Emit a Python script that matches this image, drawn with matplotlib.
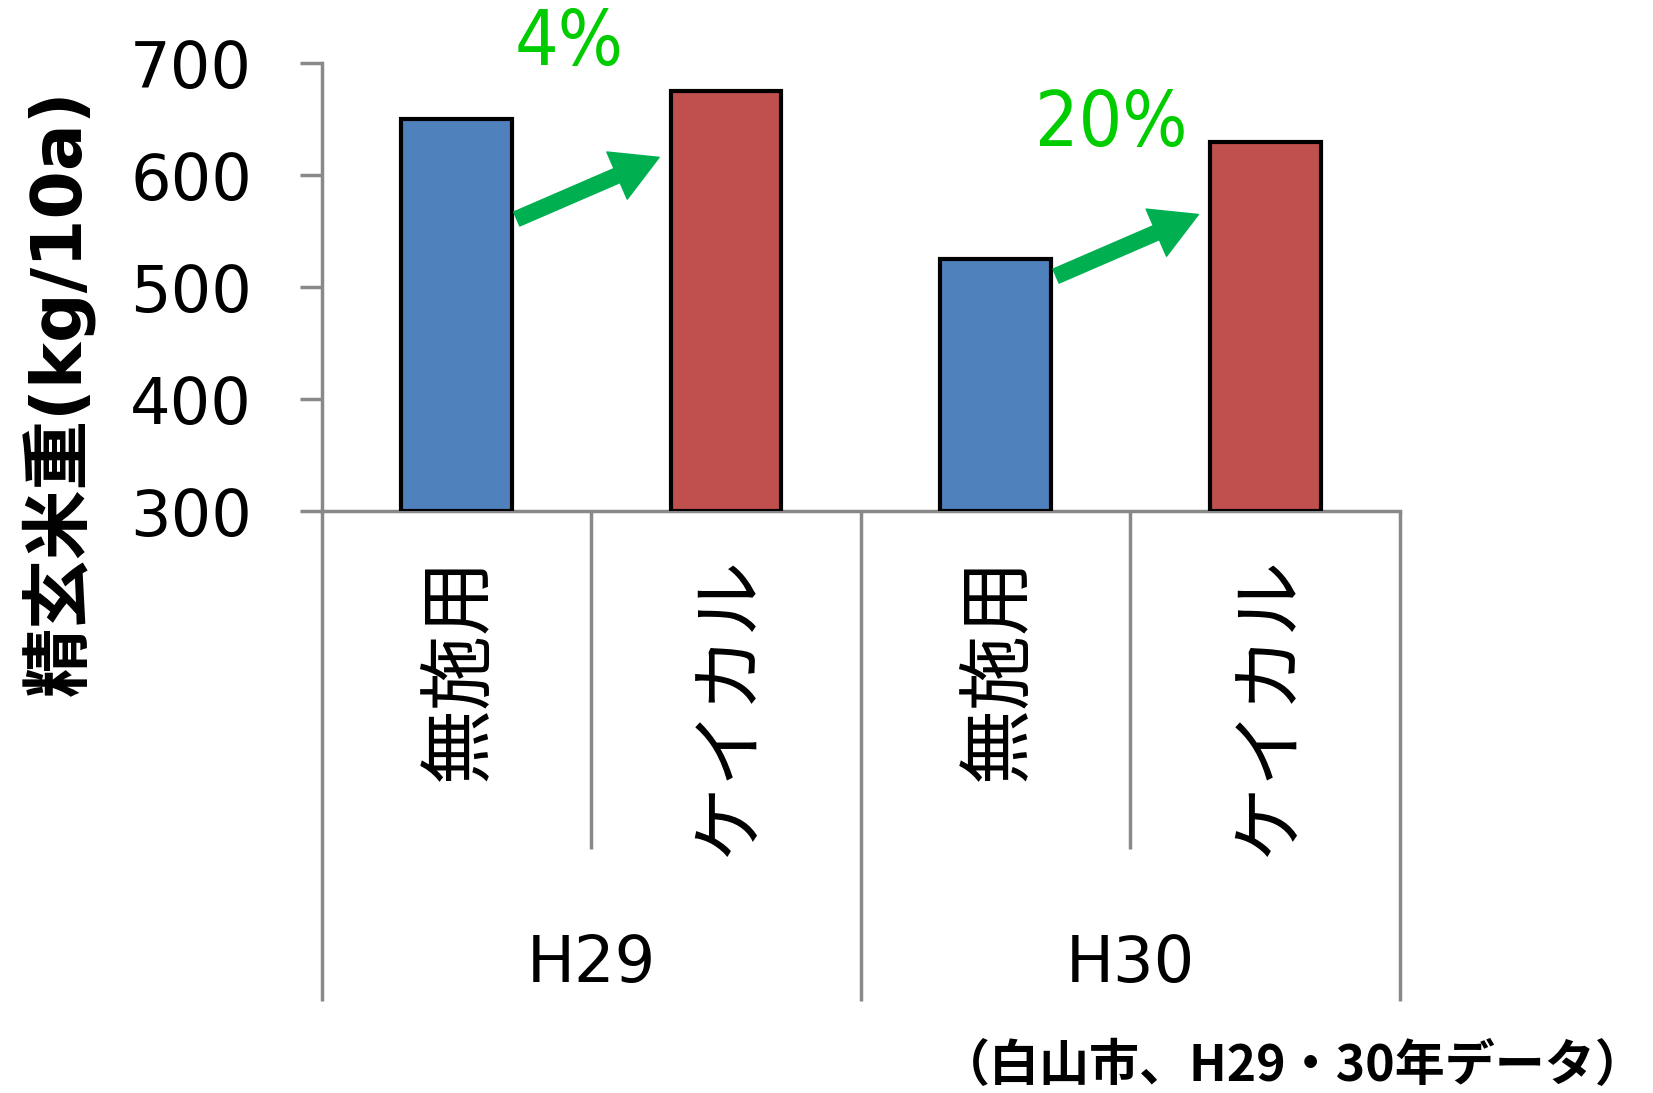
import matplotlib
matplotlib.use("Agg")
import matplotlib.pyplot as plt
import matplotlib.transforms as mtransforms

plt.rcParams['font.family'] = ['DejaVu Sans', 'Noto Sans CJK JP']

# ---- data ----
categories = ['無施用', 'ケイカル', '無施用', 'ケイカル']
groups = ['H29', 'H30']
values = [650, 675, 525, 630]
bar_colors = ['#4F81BD', '#C0504D', '#4F81BD', '#C0504D']
yticks = [300, 400, 500, 600, 700]
increase_labels = ['4%', '20%']
increase_label_xy = [(0.42, 717), (2.43, 645)]
arrow_tail_y = [561, 510]
arrow_rise = 55
ylabel = '精玄米重(kg/10a)'
note = '（白山市、H29・30年データ）'

GRAY = '#898989'

fig = plt.figure(figsize=(16.53, 10.93), dpi=100)
ax = fig.add_axes([0.1945, 0.5322, 0.6525, 0.4099])

x = list(range(len(values)))
ax.bar(x, [v - 300 for v in values], bottom=300, width=0.41, color=bar_colors,
       edgecolor='black', linewidth=3.0, zorder=3)

ax.set_xlim(-0.5, len(values) - 0.5)
ax.set_ylim(300, 700)
ax.set_yticks(yticks)
ax.set_yticklabels([str(t) for t in yticks], fontsize=46)
ax.tick_params(axis='y', direction='out', length=16, width=2.5, color=GRAY, pad=34)
ax.set_xticks([])

for s in ['top', 'right']:
    ax.spines[s].set_visible(False)
for s in ['left', 'bottom']:
    ax.spines[s].set_color(GRAY)
    ax.spines[s].set_linewidth(2.5)

# category dividers below the axis
trans = mtransforms.blended_transform_factory(ax.transData, ax.transAxes)
for i in range(len(values) + 1):
    xd = i - 0.5
    ylow = -1.094 if i % 2 == 0 else -0.753
    ax.plot([xd, xd], [0, ylow], transform=trans, color=GRAY, lw=2.5,
            clip_on=False, solid_capstyle='butt')

# category labels (rotated)
for i, c in enumerate(categories):
    ax.text(i + 0.01, -0.10, c, transform=trans, rotation=90, ha='center', va='top',
            fontsize=54, family=['Noto Sans CJK JP'])

# group labels
for g, label in enumerate(groups):
    ax.text(2 * g + 0.5, -1.01, label, transform=trans, ha='center', va='center',
            fontsize=46)

# increase arrows and labels
for k in range(len(groups)):
    b = 2 * k
    tail = (b + 0.224, arrow_tail_y[k])
    tip = (b + 0.752, arrow_tail_y[k] + arrow_rise)
    ax.annotate('', xy=tip, xytext=tail,
                arrowprops=dict(arrowstyle='simple,head_length=3.3,head_width=3.7,tail_width=1.1',
                                color='#00B050', shrinkA=0, shrinkB=0, mutation_scale=10),
                annotation_clip=False, zorder=4)
    ax.text(increase_label_xy[k][0], increase_label_xy[k][1], increase_labels[k],
            ha='center', va='center', color='#00CC00', fontsize=55,
            fontstretch='condensed', family=['DejaVu Sans'], clip_on=False)

fig.text(0.035, 0.641, ylabel, rotation=90, ha='center', va='center',
         fontsize=50, fontweight='bold')

fig.text(0.782, 0.024, note, ha='center', va='center', fontsize=36,
         fontweight='bold', family=['Noto Sans CJK JP'])

fig.savefig('out.png', dpi=100)
